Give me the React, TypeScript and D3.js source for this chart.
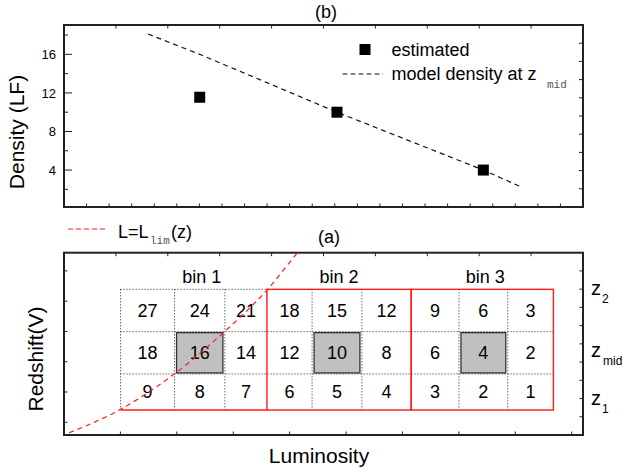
import React from "react";
import * as d3 from "d3";

// ---- data ----
const binNames = ["bin 1", "bin 2", "bin 3"];
// counts per cell, rows from z2 (top) to z1 (bottom), columns left to right
const countsZ2 = [27, 24, 21, 18, 15, 12, 9, 6, 3];
const countsZmid = [18, 16, 14, 12, 10, 8, 6, 4, 2];
const countsZ1 = [9, 8, 7, 6, 5, 4, 3, 2, 1];
// luminosity cell edges (10 edges -> 9 columns)
const lumEdges = [1.09, 2.13, 3.1, 3.91, 4.78, 5.74, 6.69, 7.61, 8.55, 9.43];
// redshift row edges, bottom to top
const zEdges = [1.37, 3.35, 5.67, 7.99];
// estimated density for each bin (panel b)
const estimatedDensity = [11.55, 10, 4];
// model line end points beyond the bin centres
const modelStart = { lum: 1.62, density: 18.1 };
const modelEnd = { lum: 8.83, density: 2.2 };
// flux limit curve L = Llim(z)
const limitLum = [0.1, 1.09, 2.14, 3.07, 3.91, 4.5, 4.8];
const limitZ = [0.12, 1.41, 3.38, 5.61, 7.95, 10.0, 11.0];
const densityTicks = [4, 8, 12, 16];
const densityMinorTicks = [2, 6, 10, 14, 18];
const zLabels = [
  { main: "z", sub: "2", z: 8.0 },
  { main: "z", sub: "mid", z: 4.6 },
  { main: "z", sub: "1", z: 2.0 },
];

const W = 626;
const H = 474;
const FONT = "'Liberation Sans', Arial, sans-serif";
const MONO = "'Liberation Mono', 'DejaVu Sans Mono', monospace";
const RED = "#ff1a1a";

// ---- scales ----
const xLum = d3.scaleLinear().domain([0, 10]).range([64, 583]);
const yDensity = d3.scaleLinear().domain([0.17, 19.04]).range([207, 25]);
const yZ = d3.scaleLinear().domain([0, 10]).range([435, 252.7]);

// decorative frame tick scales
const topBottomTicks = d3.scaleLinear().domain([0, 23]).range([64, 583]);
const topRightTicks = d3.scaleLinear().domain([0, 10]).range([207, 25]);
const lowBottomTicks = d3.scaleLinear().domain([0, 9.2]).range([64, 583]);
const lowLeftTicks = d3.scaleLinear().domain([0.58, 6.6]).range([435, 252.7]);

function inner(vals: number[], lo: number, hi: number) {
  return vals.filter((v) => v > lo + 0.01 && v < hi - 0.01);
}

function HTicks({ scale, count, y, dir, len }: any) {
  const [a, b] = scale.domain();
  const vals = inner(scale.ticks(count), a, b);
  return (
    <g stroke="#222" strokeWidth={1}>
      {vals.map((v: number, i: number) => (
        <line key={i} x1={scale(v)} x2={scale(v)} y1={y} y2={y + dir * len} />
      ))}
    </g>
  );
}

function VTicks({ scale, count, x, dir, len }: any) {
  const [a, b] = scale.domain();
  const vals = inner(scale.ticks(count), a, b);
  return (
    <g stroke="#222" strokeWidth={1}>
      {vals.map((v: number, i: number) => (
        <line key={i} y1={scale(v)} y2={scale(v)} x1={x} x2={x + dir * len} />
      ))}
    </g>
  );
}

export default function App() {
  const rows = [countsZ2, countsZmid, countsZ1];
  const rowBounds = [
    [zEdges[2], zEdges[3]],
    [zEdges[1], zEdges[2]],
    [zEdges[0], zEdges[1]],
  ];
  const colCenter = (c: number) => xLum((lumEdges[c] + lumEdges[c + 1]) / 2);
  const binMidCol = binNames.map((_, b) => b * 3 + 1);
  const binCenterLum = binMidCol.map((c) => (lumEdges[c] + lumEdges[c + 1]) / 2);
  const modelDensity = binMidCol.map((c) => countsZmid[c]);

  const modelPts = [
    modelStart,
    ...binCenterLum.map((l, i) => ({ lum: l, density: modelDensity[i] })),
    modelEnd,
  ];
  const modelLine = d3
    .line<{ lum: number; density: number }>()
    .x((d) => xLum(d.lum))
    .y((d) => yDensity(d.density))(modelPts);

  const limitLine = d3
    .line<number>()
    .x((_, i) => xLum(limitLum[i]))
    .y((d) => yZ(d))
    .curve(d3.curveMonotoneX)(limitZ);

  const x0 = xLum(lumEdges[0]);
  const x9 = xLum(lumEdges[9]);
  const dotted = { stroke: "#222", strokeWidth: 1, strokeDasharray: "1,2" };
  const sq = 11;

  return (
    <svg
      width={W}
      height={H}
      style={{ position: "absolute", left: 0, top: 0, display: "block", background: "#fff" }}
      fontFamily={FONT}
    >
      <defs>
        <clipPath id="lowClip">
          <rect x={64} y={252.7} width={519} height={182.3} />
        </clipPath>
      </defs>

      {/* ---------- panel (b) ---------- */}
      <text x={326} y={18} fontSize={18} textAnchor="middle">(b)</text>
      <rect x={64} y={25} width={519} height={182} fill="none" stroke="#222" strokeWidth={2} />
      <HTicks scale={topBottomTicks} count={23} y={207} dir={-1} len={3.5} />
      <HTicks scale={xLum} count={10} y={25} dir={1} len={3.5} />
      <VTicks scale={topRightTicks} count={10} x={583} dir={-1} len={4} />
      <g stroke="#222" strokeWidth={1}>
        {densityTicks.map((v) => (
          <line key={v} x1={64} x2={72} y1={yDensity(v)} y2={yDensity(v)} />
        ))}
        {densityMinorTicks.map((v) => (
          <line key={v} x1={64} x2={68} y1={yDensity(v)} y2={yDensity(v)} />
        ))}
      </g>
      {densityTicks.map((v) => (
        <text key={v} x={56} y={yDensity(v)} dy="0.36em" fontSize={13} textAnchor="end">
          {v}
        </text>
      ))}
      <text transform="translate(24,132) rotate(-90)" fontSize={21} textAnchor="middle">
        Density (LF)
      </text>

      <path d={modelLine || ""} fill="none" stroke="#111" strokeWidth={1.2} strokeDasharray="5,4" />
      {estimatedDensity.map((d, i) => (
        <rect
          key={i}
          x={xLum(binCenterLum[i]) - sq / 2}
          y={yDensity(d) - sq / 2}
          width={sq}
          height={sq}
          fill="#000"
        />
      ))}

      {/* legend (b) */}
      <rect x={359.5} y={44} width={sq} height={sq} fill="#000" />
      <text x={391.5} y={56} fontSize={18}>estimated</text>
      <line x1={342.5} x2={383} y1={74} y2={74} stroke="#111" strokeWidth={1.2} strokeDasharray="5,3" />
      <text x={391.5} y={80} fontSize={18}>model density at z</text>
      <text x={547} y={88} fontSize={11} fontFamily={MONO} fill="#555">mid</text>

      {/* ---------- panel (a) ---------- */}
      <line x1={68} x2={108} y1={229} y2={229} stroke={RED} strokeWidth={1.2} strokeDasharray="5,3" />
      <text x={118} y={238} fontSize={18}>L=L</text>
      <text x={150} y={243.5} fontSize={11} fontFamily={MONO} fill="#555">lim</text>
      <text x={171} y={238} fontSize={18}>(z)</text>
      <text x={329} y={243} fontSize={18} textAnchor="middle">(a)</text>

      <rect x={64} y={252.7} width={519} height={182.3} fill="none" stroke="#222" strokeWidth={2} />
      <HTicks scale={xLum} count={10} y={252.7} dir={1} len={3.5} />
      <HTicks scale={lowBottomTicks} count={9} y={435} dir={-1} len={3.5} />
      <VTicks scale={lowLeftTicks} count={6} x={64} dir={1} len={3.5} />
      <VTicks scale={yZ} count={10} x={583} dir={-1} len={3.5} />

      <text transform="translate(43,359) rotate(-90)" fontSize={21} textAnchor="middle">
        Redshift(V)
      </text>
      <text x={319} y={463} fontSize={21} textAnchor="middle">Luminosity</text>

      {/* highlighted centre cells */}
      {binMidCol.map((c, i) => (
        <rect
          key={i}
          x={xLum(lumEdges[c]) + 2}
          y={yZ(zEdges[2]) + 1}
          width={xLum(lumEdges[c + 1]) - xLum(lumEdges[c]) - 4}
          height={yZ(zEdges[1]) - yZ(zEdges[2]) - 2}
          fill="#c0c0c0"
          stroke="#333"
          strokeWidth={1.3}
        />
      ))}

      {/* dotted cell grid */}
      <g {...dotted}>
        <line x1={x0} x2={xLum(lumEdges[3])} y1={yZ(zEdges[3])} y2={yZ(zEdges[3])} />
        {[zEdges[1], zEdges[2]].map((z, i) => (
          <line key={i} x1={x0} x2={x9} y1={yZ(z)} y2={yZ(z)} />
        ))}
        {[0, 1, 2, 4, 5, 7, 8].map((c) => (
          <line key={c} x1={xLum(lumEdges[c])} x2={xLum(lumEdges[c])} y1={yZ(zEdges[3])} y2={yZ(zEdges[0])} />
        ))}
      </g>

      {/* bin outlines */}
      <g stroke={RED} strokeWidth={1.4} fill="none">
        <line x1={x0} x2={xLum(lumEdges[3])} y1={yZ(zEdges[0])} y2={yZ(zEdges[0])} />
        {[1, 2].map((b) => (
          <rect
            key={b}
            x={xLum(lumEdges[b * 3])}
            y={yZ(zEdges[3])}
            width={xLum(lumEdges[b * 3 + 3]) - xLum(lumEdges[b * 3])}
            height={yZ(zEdges[0]) - yZ(zEdges[3])}
          />
        ))}
      </g>

      {/* cell counts */}
      {rows.map((row, r) =>
        row.map((v, c) => (
          <text
            key={`${r}-${c}`}
            x={colCenter(c)}
            y={(yZ(rowBounds[r][0]) + yZ(rowBounds[r][1])) / 2}
            dy="0.36em"
            fontSize={18}
            textAnchor="middle"
          >
            {v}
          </text>
        ))
      )}

      {binNames.map((n, b) => (
        <text key={n} x={colCenter(b * 3 + 1) + 2} y={283} fontSize={18} textAnchor="middle">
          {n}
        </text>
      ))}

      {/* redshift level labels */}
      {zLabels.map((l, i) => (
        <g key={i}>
          <text x={591} y={yZ(l.z) + 6} fontSize={20}>{l.main}</text>
          <text x={l.sub === "mid" ? 603 : 602} y={yZ(l.z) + 14} fontSize={12}>{l.sub}</text>
        </g>
      ))}

      <path
        d={limitLine || ""}
        fill="none"
        stroke={RED}
        strokeWidth={1.2}
        strokeDasharray="5,4"
        clipPath="url(#lowClip)"
      />
    </svg>
  );
}
